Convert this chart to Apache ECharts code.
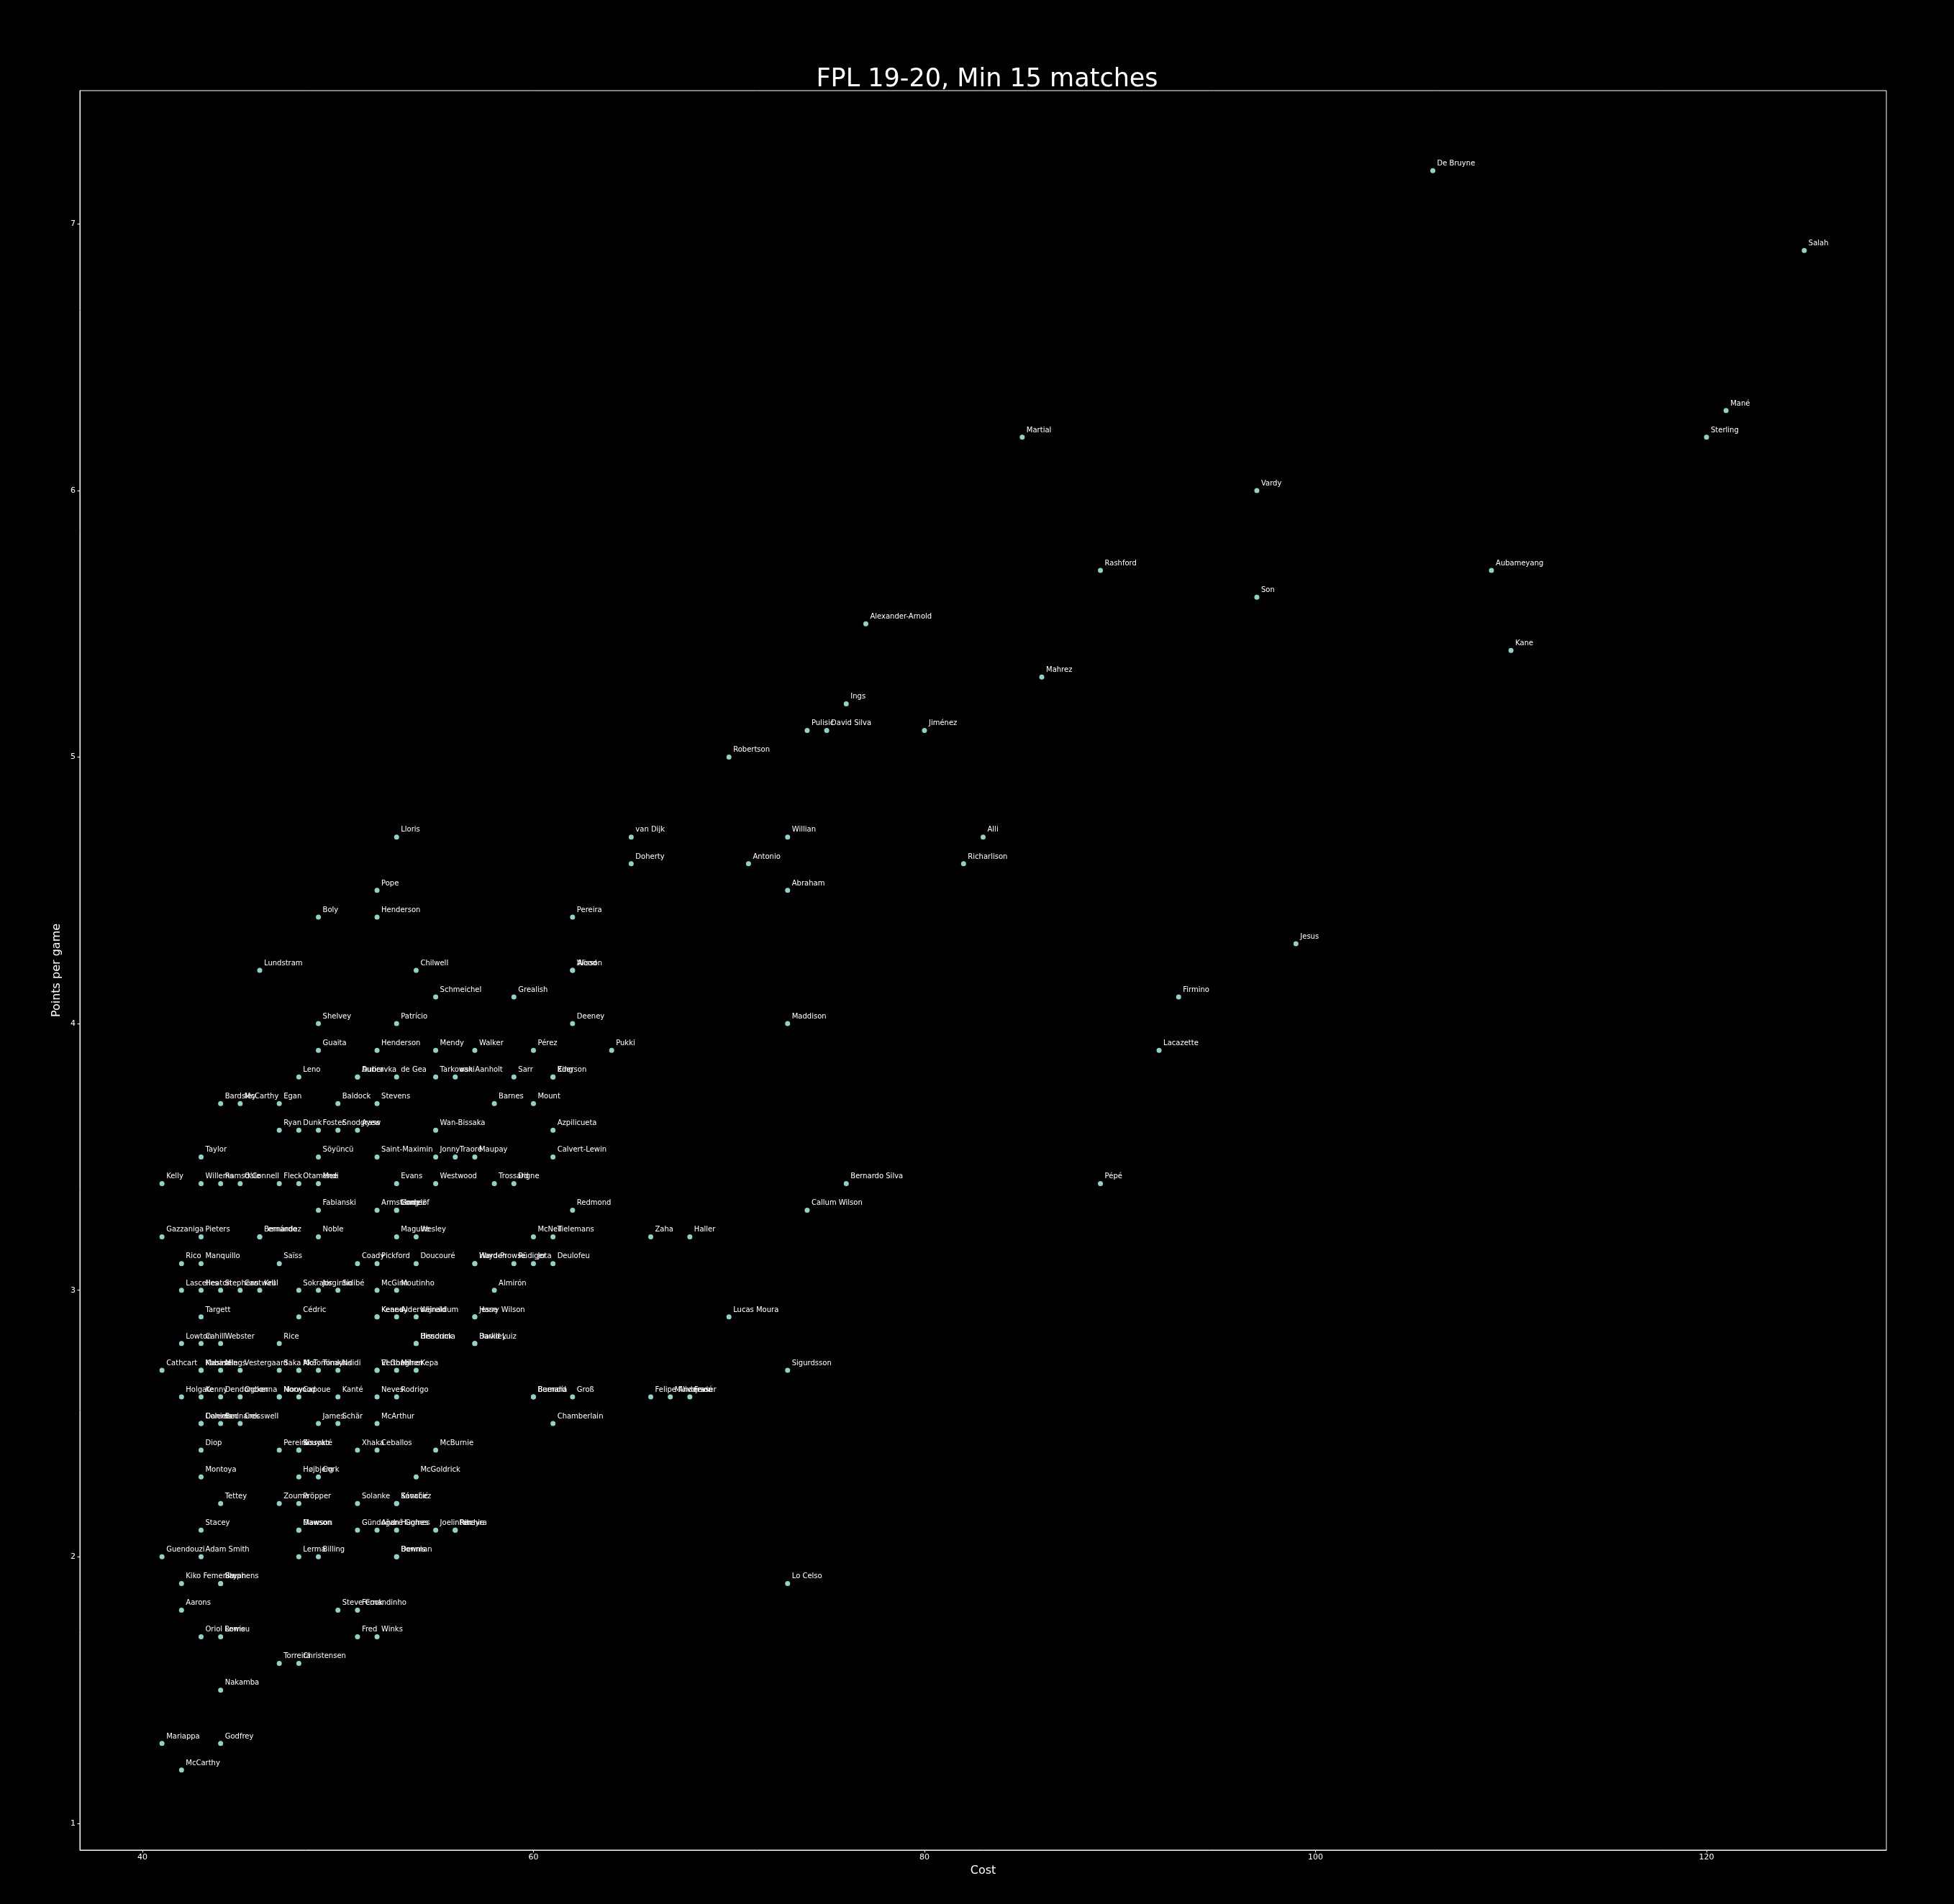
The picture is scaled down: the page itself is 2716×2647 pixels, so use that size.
<!DOCTYPE html>
<html><head><meta charset="utf-8">
<script src="https://cdn.jsdelivr.net/npm/echarts@6/dist/echarts.min.js"></script>
<style>html,body{margin:0;padding:0;background:#000;}#c{width:2716px;height:2647px;}</style>
</head><body><div id="c"></div>
<script>
const players = [
 "De Bruyne","Salah","Mané","Sterling","Martial","Vardy","Rashford","Aubameyang","Son","Alexander-Arnold",
 "Kane","Mahrez","Ings","Pulisic","David Silva","Jiménez","Robertson","Lloris","van Dijk","Willian",
 "Alli","Doherty","Antonio","Richarlison","Pope","Abraham","Boly","Henderson","Pereira","Jesus",
 "Lundstram","Chilwell","Wood","Alisson","Schmeichel","Grealish","Firmino","Shelvey","Patrício","Deeney",
 "Maddison","Guaita","Henderson","Mendy","Walker","Pérez","Pukki","Lacazette","Leno","Dubravka",
 "Aurier","de Gea","Tarkowski","van Aanholt","Sarr","Ederson","King","Bardsley","McCarthy","Egan",
 "Baldock","Stevens","Barnes","Mount","Ryan","Dunk","Foster","Snodgrass","Ayew","Wan-Bissaka",
 "Azpilicueta","Taylor","Söyüncü","Saint-Maximin","Jonny","Traoré","Maupay","Calvert-Lewin","Kelly","Willems",
 "Ramsdale","O'Connell","Fleck","Otamendi","Mee","Evans","Westwood","Trossard","Digne","Bernardo Silva",
 "Pépé","Fabianski","Armstrong","Lindelöf","Gomez","Redmond","Callum Wilson","Gazzaniga","Pieters","Fernández",
 "Bernardo","Noble","Maguire","Wesley","McNeil","Tielemans","Zaha","Haller","Rico","Manquillo",
 "Saïss","Coady","Pickford","Doucouré","Ward-Prowse","Hayden","Rüdiger","Jota","Deulofeu","Lascelles",
 "Heaton","Stephens","Cantwell","Krul","Sokratis","Jorginho","Sidibé","McGinn","Moutinho","Almirón",
 "Targett","Cédric","Keane","Kenedy","Alderweireld","Wijnaldum","Harry Wilson","Jesse","Lucas Moura","Lowton",
 "Cahill","Webster","Rice","Hendrick","Bissouma","David Luiz","Barkley","Cathcart","Kabasele","Masina",
 "Mings","Vestergaard","Saka","Aké","McTominay","Tomkins","Ndidi","Vertonghen","El Ghazi","Milner",
 "Kepa","Sigurdsson","Holgate","Kenny","Dendoncker","Ogbonna","Mooy","Norwood","Capoue","Kanté",
 "Neves","Rodrigo","Buendía","Bernard","Groß","Felipe Anderson","Milivojević","Fraser","Daniels","Coleman",
 "Bednarek","Cresswell","James","Schär","McArthur","Chamberlain","Diop","Pereira","Kouyaté","Sissoko",
 "Xhaka","Ceballos","McBurnie","Montoya","Højbjerg","Cork","McGoldrick","Tettey","Zouma","Pröpper",
 "Solanke","Sánchez","Kovačić","Stacey","Dawson","Mawson","Gündoğan","André Gomes","Hughes","Joelinton",
 "Pereyra","Ritchie","Guendouzi","Adam Smith","Lerma","Billing","Bowman","Dennis","Kiko Femenía","Stephens",
 "Bryan","Lo Celso","Aarons","Steve Cook","Fernandinho","Oriol Romeu","Lewis","Fred","Winks","Torreira",
 "Christensen","Nakamba","Mariappa","Godfrey","McCarthy"
];
const cost = [
 106,125,121,120,85,97,89,109,97,77,
 110,86,76,74,75,80,70,53,65,73,
 83,65,71,82,52,73,49,52,62,99,
 46,54,62,62,55,59,93,49,53,62,
 73,49,52,55,57,60,64,92,48,51,
 51,53,55,56,59,61,61,44,45,47,
 50,52,58,60,47,48,49,50,51,55,
 61,43,49,52,55,56,57,61,41,43,
 44,45,47,48,49,53,55,58,59,76,
 89,49,52,53,53,62,74,41,43,46,
 46,49,53,54,60,61,66,68,42,43,
 47,51,52,54,57,57,59,60,61,42,
 43,44,45,46,48,49,50,52,53,58,
 43,48,52,52,53,54,57,57,70,42,
 43,44,47,54,54,57,57,41,43,43,
 44,45,47,48,48,49,50,52,52,53,
 54,73,42,43,44,45,47,47,48,50,
 52,53,60,60,62,66,67,68,43,43,
 44,45,49,50,52,61,43,47,48,48,
 51,52,55,43,48,49,54,44,47,48,
 51,53,53,43,48,48,51,52,53,55,
 56,56,41,43,48,49,53,53,42,44,
 44,73,42,50,51,43,44,51,52,47,
 48,44,41,44,42
];
const ppg = [
 7.2,6.9,6.3,6.2,6.2,6.0,5.7,5.7,5.6,5.5,
 5.4,5.3,5.2,5.1,5.1,5.1,5.0,4.7,4.7,4.7,
 4.7,4.6,4.6,4.6,4.5,4.5,4.4,4.4,4.4,4.3,
 4.2,4.2,4.2,4.2,4.1,4.1,4.1,4.0,4.0,4.0,
 4.0,3.9,3.9,3.9,3.9,3.9,3.9,3.9,3.8,3.8,
 3.8,3.8,3.8,3.8,3.8,3.8,3.8,3.7,3.7,3.7,
 3.7,3.7,3.7,3.7,3.6,3.6,3.6,3.6,3.6,3.6,
 3.6,3.5,3.5,3.5,3.5,3.5,3.5,3.5,3.4,3.4,
 3.4,3.4,3.4,3.4,3.4,3.4,3.4,3.4,3.4,3.4,
 3.4,3.3,3.3,3.3,3.3,3.3,3.3,3.2,3.2,3.2,
 3.2,3.2,3.2,3.2,3.2,3.2,3.2,3.2,3.1,3.1,
 3.1,3.1,3.1,3.1,3.1,3.1,3.1,3.1,3.1,3.0,
 3.0,3.0,3.0,3.0,3.0,3.0,3.0,3.0,3.0,3.0,
 2.9,2.9,2.9,2.9,2.9,2.9,2.9,2.9,2.9,2.8,
 2.8,2.8,2.8,2.8,2.8,2.8,2.8,2.7,2.7,2.7,
 2.7,2.7,2.7,2.7,2.7,2.7,2.7,2.7,2.7,2.7,
 2.7,2.7,2.6,2.6,2.6,2.6,2.6,2.6,2.6,2.6,
 2.6,2.6,2.6,2.6,2.6,2.6,2.6,2.6,2.5,2.5,
 2.5,2.5,2.5,2.5,2.5,2.5,2.4,2.4,2.4,2.4,
 2.4,2.4,2.4,2.3,2.3,2.3,2.3,2.2,2.2,2.2,
 2.2,2.2,2.2,2.1,2.1,2.1,2.1,2.1,2.1,2.1,
 2.1,2.1,2.0,2.0,2.0,2.0,2.0,2.0,1.9,1.9,
 1.9,1.9,1.8,1.8,1.8,1.7,1.7,1.7,1.7,1.6,
 1.6,1.5,1.3,1.3,1.2
];
const xTicks = [40, 60, 80, 100, 120];
const yTicks = [1, 2, 3, 4, 5, 6, 7];
const titleText = "FPL 19-20, Min 15 matches";
const xName = "Cost";
const yName = "Points per game";

const FONT = "DejaVu Sans";
const data = players.map((n, i) => ({ name: n, value: [cost[i], ppg[i]] }));

const chart = echarts.init(document.getElementById('c'), null, { renderer: 'canvas' });
chart.setOption({
  backgroundColor: '#000',
  animation: false,
  title: {
    text: titleText, left: 1367, top: 88, textAlign: 'center',
    textStyle: { color: '#fff', fontSize: 35, fontWeight: 'normal', fontFamily: FONT }
  },
  grid: { left: 111, right: 94, top: 126, bottom: 75, show: true, borderColor: '#fff', borderWidth: 1, backgroundColor: 'transparent' },
  xAxis: {
    type: 'value', min: 36.8, max: 129.2,
    name: xName, nameLocation: 'middle', nameGap: 18,
    nameTextStyle: { color: '#fff', fontSize: 16, fontFamily: FONT },
    splitLine: { show: false },
    axisLine: { show: true, onZero: false, lineStyle: { color: '#fff', width: 1 } },
    axisTick: { show: true, length: 3.5, lineStyle: { color: '#fff' }, customValues: xTicks },
    axisLabel: { color: '#fff', fontSize: 11, fontFamily: FONT, margin: 5, customValues: xTicks }
  },
  yAxis: {
    type: 'value', min: 0.9, max: 7.5,
    name: yName, nameLocation: 'middle', nameGap: 19,
    nameTextStyle: { color: '#fff', fontSize: 16, fontFamily: FONT },
    splitLine: { show: false },
    axisLine: { show: true, onZero: false, lineStyle: { color: '#fff', width: 1 } },
    axisTick: { show: true, length: 3.5, lineStyle: { color: '#fff' }, customValues: yTicks },
    axisLabel: { color: '#fff', fontSize: 11, fontFamily: FONT, margin: 6, customValues: yTicks }
  },
  series: [{
    type: 'scatter',
    data: data,
    symbol: 'circle',
    symbolSize: 7,
    itemStyle: { color: '#8dd3c7', opacity: 1 },
    label: {
      show: true, position: [9.5, -1.3], align: 'left', verticalAlign: 'bottom',
      formatter: '{b}', color: '#fff', fontSize: 10, fontFamily: FONT
    },
    emphasis: { disabled: true },
    labelLayout: { hideOverlap: false }
  }]
});
</script></body></html>
